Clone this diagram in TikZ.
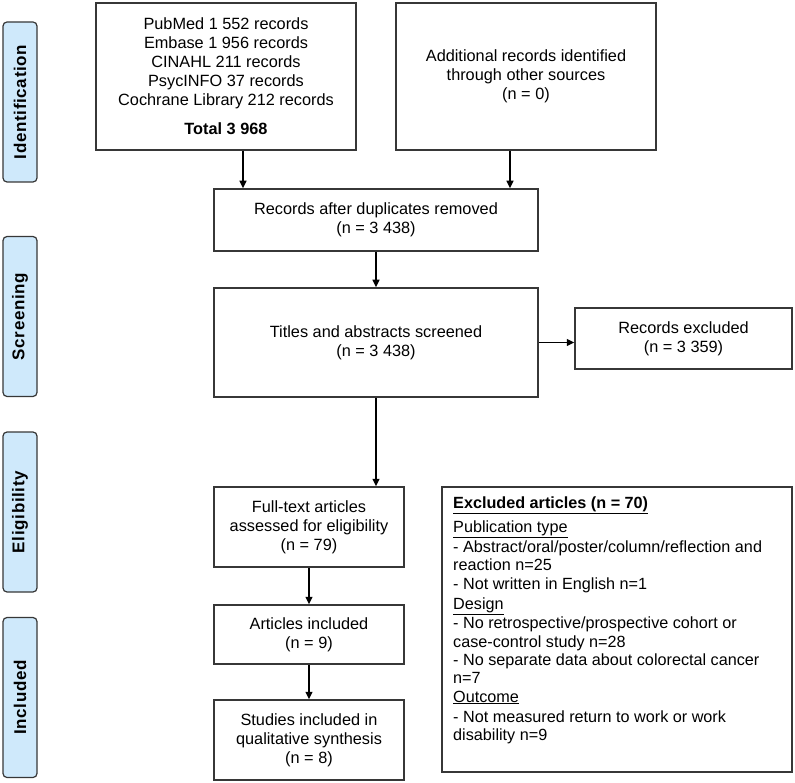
\documentclass[tikz,border=0pt]{standalone}
\usepackage{fontspec}
\setmainfont{Liberation Sans}
\usetikzlibrary{arrows.meta}
\definecolor{stagefill}{RGB}{207,233,251}
\definecolor{edge}{RGB}{55,55,55}
\begin{document}
\begin{tikzpicture}[x=1pt,y=-1pt,
 box/.style={draw=edge,line width=1.5pt,fill=white,inner sep=0pt,align=center,font=\fontsize{16.3}{19}\selectfont},
 stage/.style={draw=edge,line width=1.2pt,fill=stagefill,rounded corners=4pt,inner sep=0pt,minimum width=160pt,minimum height=34pt,rotate=90,font=\bfseries\fontsize{17}{18}\selectfont\addfontfeatures{LetterSpace=4}},
 arr/.style={line width=1.5pt,-{Triangle[length=7.5pt,width=7pt]}},
 exline/.style={anchor=base west,inner sep=0pt,font=\fontsize{16.2}{18}\selectfont}]
\useasboundingbox (0,0) rectangle (795,783);
% stage labels
\node[stage] (sid) at (20,102) {Identification};
\node[stage] (ssc) at (20,316.5) {Screening};
\node[stage] (sel) at (20,512) {Eligibility};
\node[stage] (sin) at (20,697.5) {Included};
% boxes
\node[box,minimum width=260pt,minimum height=147pt] (db) at (226,76.5)
 {PubMed 1 552 records\\Embase 1 956 records\\CINAHL 211 records\\PsycINFO 37 records\\Cochrane Library 212 records\\[10pt]\textbf{Total 3 968}};
\node[box,minimum width=260pt,minimum height=147pt] (add) at (526,76.5)
 {Additional records identified\\through other sources\\(n = 0)};
\node[box,minimum width=324pt,minimum height=62pt] (rec) at (376,220)
 {Records after duplicates removed\\(n = 3 438)};
\node[box,minimum width=324pt,minimum height=109pt] (tit) at (376,342.5)
 {Titles and abstracts screened\\(n = 3 438)};
\node[box,minimum width=217pt,minimum height=61pt] (exc) at (683.5,338.5)
 {Records excluded\\(n = 3 359)};
\node[box,minimum width=190pt,minimum height=80pt] (ft) at (309,527)
 {Full-text articles\\assessed for eligibility\\(n = 79)};
\node[box,minimum width=190pt,minimum height=59pt] (inc) at (309,634.5)
 {Articles included\\(n = 9)};
\node[box,minimum width=190pt,minimum height=80pt] (stu) at (309,740)
 {Studies included in\\qualitative synthesis\\(n = 8)};
\node[box,minimum width=350pt,minimum height=285pt] (exa) at (617,629.5) {};
% excluded articles text
\node[exline] (e1) at (453,508) {\underline{\textbf{Excluded articles (n = 70)}}};
\node[exline] (e2) at (453,532) {\underline{Publication type}};
\node[exline] (e3) at (453,552) {- Abstract/oral/poster/column/reflection and};
\node[exline] (e4) at (453,570) {reaction n=25};
\node[exline] (e5) at (453,589) {- Not written in English n=1};
\node[exline] (e6) at (453,609) {\underline{Design}};
\node[exline] (e7) at (453,628) {- No retrospective/prospective cohort or};
\node[exline] (e8) at (453,647) {case-control study n=28};
\node[exline] (e9) at (453,665) {- No separate data about colorectal cancer};
\node[exline] (e10) at (453,683) {n=7};
\node[exline] (e11) at (453,702) {\underline{Outcome}};
\node[exline] (e12) at (453,722) {- Not measured return to work or work};
\node[exline] (e13) at (453,740) {disability n=9};
% connectors
\coordinate (xl) at (243,0);
\coordinate (xr) at (510,0);
\draw[arr] (db.south -| xl) -- (rec.north -| xl);
\draw[arr] (add.south -| xr) -- (rec.north -| xr);
\draw[arr] (rec.south) -- (tit.north);
\draw[arr] (tit.east) -- (exc.west |- tit.east);
\draw[arr] (tit.south) -- (tit.south |- ft.north);
\draw[arr] (ft.south) -- (inc.north);
\draw[arr] (inc.south) -- (stu.north);
\end{tikzpicture}
\end{document}
